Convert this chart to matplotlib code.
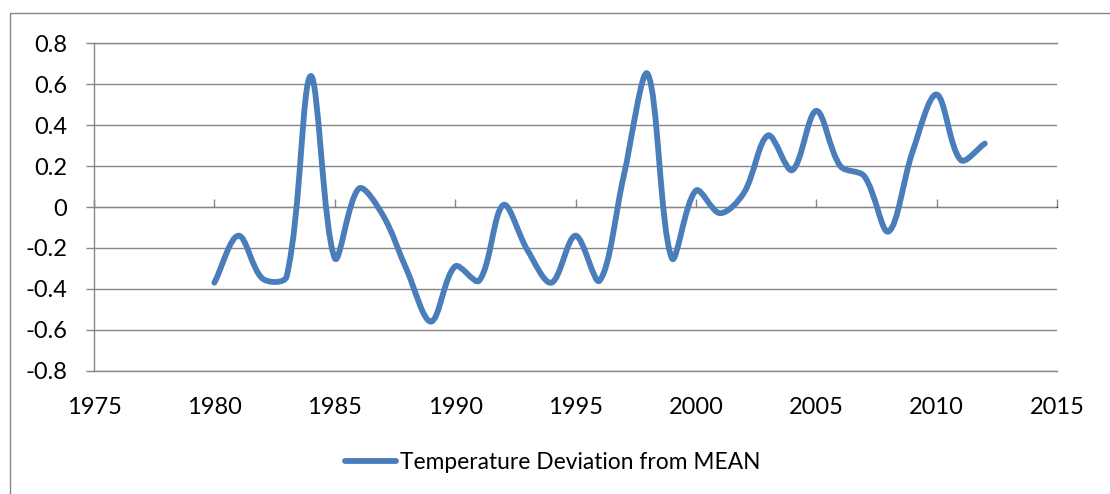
import numpy as np
import matplotlib
matplotlib.use("Agg")
import matplotlib.pyplot as plt
from matplotlib.path import Path
from matplotlib.patches import PathPatch, Rectangle
from matplotlib.lines import Line2D

# data
years = [1980, 1981, 1982, 1983, 1984, 1985, 1986, 1987, 1988, 1989, 1990,
         1991, 1992, 1993, 1994, 1995, 1996, 1997, 1998, 1999, 2000, 2001,
         2002, 2003, 2004, 2005, 2006, 2007, 2008, 2009, 2010, 2011, 2012]
deviation = [-0.37, -0.14, -0.35, -0.34, 0.64, -0.25, 0.09, -0.04, -0.31, -0.56, -0.29,
             -0.36, 0.01, -0.21, -0.37, -0.14, -0.36, 0.15, 0.65, -0.25, 0.08, -0.03,
             0.07, 0.35, 0.18, 0.47, 0.20, 0.15, -0.12, 0.27, 0.55, 0.23, 0.31]
x_ticks = [1975, 1980, 1985, 1990, 1995, 2000, 2005, 2010, 2015]
y_ticks = [-0.8, -0.6, -0.4, -0.2, 0, 0.2, 0.4, 0.6, 0.8]
y_labels = ["-0.8", "-0.6", "-0.4", "-0.2", "0", "0.2", "0.4", "0.6", "0.8"]
series_name = "Temperature Deviation from MEAN"

blue = "#4a7ebb"
grey = "#868686"
plt.rcParams["font.family"] = ["Lato", "DejaVu Sans"]
fs = 17

fig = plt.figure(figsize=(11.1, 4.94), dpi=100)
W, H = 1110, 494
ax = fig.add_axes([94 / W, 1 - 370.7 / H, (1057 - 94) / W, (370.7 - 43.3) / H])
ax.set_xlim(1975, 2015)
ax.set_ylim(-0.8, 0.8)

# smoothed line like excel: bezier with chord-length weighted tangents (in pixels)
pts = np.column_stack([years, deviation]).astype(float)
pix = ax.transData.transform(pts)
ext = np.vstack([pix[0], pix, pix[-1]])
verts = [pix[0]]
codes = [Path.MOVETO]
for i in range(len(pix) - 1):
    p0, p1, p2, p3 = ext[i], ext[i + 1], ext[i + 2], ext[i + 3]
    d01 = np.hypot(*(p1 - p0))
    d12 = np.hypot(*(p2 - p1))
    d23 = np.hypot(*(p3 - p2))
    c1 = p1 + (p2 - p0) * d12 / (3 * (d01 + d12)) if d01 + d12 > 0 else p1
    c2 = p2 - (p3 - p1) * d12 / (3 * (d12 + d23)) if d12 + d23 > 0 else p2
    verts += [c1, c2, p2]
    codes += [Path.CURVE4] * 3
verts = ax.transData.inverted().transform(np.array(verts))
ax.add_patch(PathPatch(Path(verts, codes), facecolor="none", edgecolor=blue,
                       lw=4.2, capstyle="round", joinstyle="round", zorder=3))

ax.set_yticks(y_ticks)
ax.set_yticklabels(y_labels)
ax.set_xticks(x_ticks)
ax.set_xticklabels([str(t) for t in x_ticks])
ax.grid(axis="y", color=grey, lw=1.0)
ax.set_axisbelow(True)
for s in ["top", "bottom", "left"]:
    ax.spines[s].set_color(grey)
    ax.spines[s].set_linewidth(1.0)
ax.spines["right"].set_visible(False)
ax.tick_params(axis="y", direction="out", length=5.8, width=1.0, color=grey,
               pad=13.5, labelsize=fs, labelcolor="black")
ax.tick_params(axis="x", length=0, pad=19, labelsize=fs, labelcolor="black")

# horizontal axis crossing at zero with its tick marks
sec = ax.secondary_xaxis(0.5)
sec.set_xticks(x_ticks)
sec.set_xticklabels([])
sec.spines["bottom"].set_color(grey)
sec.spines["bottom"].set_linewidth(1.0)
sec.tick_params(axis="x", direction="out", length=6, width=1.0, color=grey)

handle = Line2D([], [], color=blue, lw=4.2, solid_capstyle="round")
fig.legend([handle], [series_name], loc="center left",
           bbox_to_anchor=(345 / W, 1 - 462 / H), frameon=False, fontsize=16.4,
           handlelength=2.22, handletextpad=0.2, borderpad=0, borderaxespad=0)

# chart area border
fig.add_artist(Rectangle((10 / W, -0.5), 2, 1.5 - 13.3 / H, transform=fig.transFigure,
                         fill=False, edgecolor=grey, lw=1.0, clip_on=False))

fig.savefig("out.png", dpi=100)
